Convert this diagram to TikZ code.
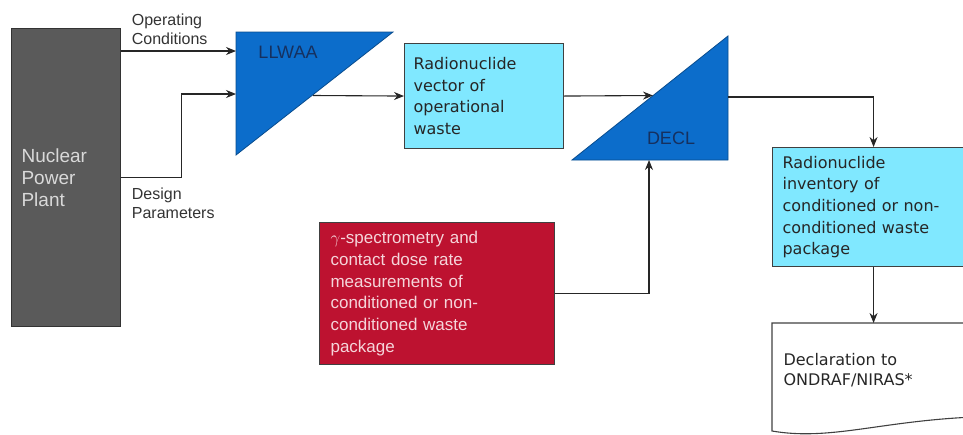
\documentclass[tikz,border=0pt]{standalone}
\usepackage{fontspec}
\setmainfont{Liberation Sans}
\newfontfamily\boxfont{DejaVu Sans}
\usetikzlibrary{arrows.meta}
\definecolor{plantgray}{HTML}{5A5A5A}
\definecolor{triblue}{HTML}{0C6DCB}
\definecolor{boxcyan}{HTML}{80E8FF}
\definecolor{boxred}{HTML}{BD1230}
\definecolor{labnavy}{HTML}{16305E}
\definecolor{redtext}{HTML}{F5D5DA}

\begin{document}
\begin{tikzpicture}[x=1pt,y=-1pt,>={Stealth[length=10pt,width=8pt]},line width=1.1pt,
    plant/.style={draw=black!80,fill=plantgray,text=black!15,align=left,
        text width=89pt,inner xsep=10pt,minimum width=109pt,minimum height=298pt,
        anchor=north west,font=\fontsize{19}{22}\selectfont},
    cyanbox/.style={draw=black!75,fill=boxcyan,text=black!85,align=left,
        inner xsep=10pt,anchor=north west,font=\boxfont\fontsize{16}{21.7}\selectfont},
    redbox/.style={draw=black!75,fill=boxred,text=redtext,align=left,
        text width=213pt,inner xsep=11pt,minimum width=235pt,minimum height=142pt,
        anchor=north west,font=\fontsize{17}{21.7}\selectfont},
    docbox/.style={text=black!85,align=left,text width=180pt,inner xsep=11pt,
        minimum width=202pt,minimum height=94pt,anchor=north west,
        font=\boxfont\fontsize{16}{20}\selectfont},
    tri/.style={draw=triblue!70!black,fill=triblue,line width=0.8pt},
    trilab/.style={text=labnavy,font=\fontsize{18}{20}\selectfont},
    lab/.style={text=black!80,align=left,anchor=west,font=\fontsize{16}{19}\selectfont},
    flow/.style={draw=black!85,->}]

    \useasboundingbox (0,0) rectangle (963,434);

    % boxes
    \node[plant] (npp) at (11,28) {Nuclear\\Power\\Plant};
    \node[cyanbox,inner xsep=9pt,text width=141pt,minimum width=159pt,minimum height=105pt]
        (vec) at (404,43) {Radionuclide\\vector of\\operational\\waste};
    \node[cyanbox,text width=182pt,minimum width=202pt,minimum height=119pt]
        (inv) at (772,147) {Radionuclide\\inventory of\\conditioned or non-\\conditioned waste\\package};
    \node[redbox] (gam) at (319,222) {$\gamma$-spectrometry and\\contact dose rate\\measurements of\\conditioned or non-\\conditioned waste\\package};
    \node[docbox] (dec) at (772,323) {Declaration to\\ONDRAF/NIRAS*};
    \draw[black!75] (974,323) -- (772,323) -- (772,431)
        .. controls (830,441) and (880,421) .. (974,417);

    % triangles
    \draw[tri] (236,32) -- (393,32) -- (236,155) -- cycle;
    \draw[tri] (728,36) -- (728,160) -- (572,160) -- cycle;
    \node[trilab] (llwaa) at (288,52) {LLWAA};
    \node[trilab] (decl) at (671,138) {DECL};
    \coordinate (ll-in1) at (236,51);
    \coordinate (ll-in2) at (236,94);
    \coordinate (ll-out) at (313,95.5);
    \coordinate (decl-in) at (653,95.5);
    \coordinate (decl-in2) at (649,160);
    \coordinate (decl-out) at (728,97);

    % labels
    \node[lab] (oplab) at (128,29) {Operating\\Conditions};
    \node[lab] (delab) at (128,203) {Design\\Parameters};

    % connectors
    \draw[flow] (npp.east |- ll-in1) -- (ll-in1);
    \draw[flow] (npp.east) -- ++(60,0) |- (ll-in2);
    \draw[flow] (ll-out) -- (vec.west);
    \draw[flow] (vec.east) -- (decl-in);
    \draw[flow] (decl-out) -| (inv.north);
    \draw[flow] (inv.south) -- (dec.north);
    \draw[flow] (gam.east) -| (decl-in2);
\end{tikzpicture}
\end{document}
